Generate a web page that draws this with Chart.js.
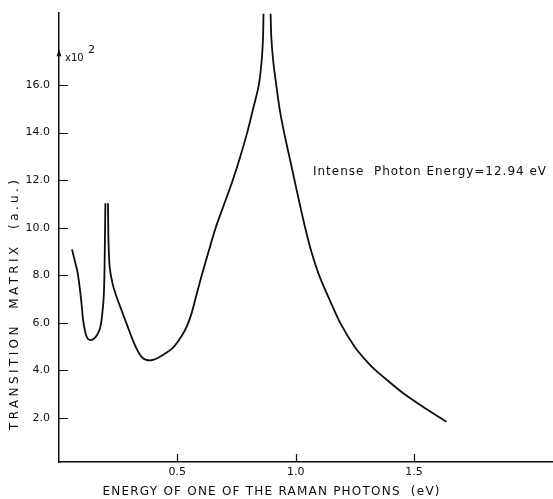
<!DOCTYPE html>
<html>
<head>
<meta charset="utf-8">
<script src="https://cdn.jsdelivr.net/npm/chart.js@4.4.1/dist/chart.umd.min.js"></script>
<style>
  html, body { margin: 0; padding: 0; background: #fff; }
  #wrap { width: 553px; height: 499px; position: relative; }
</style>
</head>
<body>
<div id="wrap"><canvas id="chart"></canvas></div>
<script>
// energy of one Raman photon (eV); a null in matrix marks a break where the curve diverges
const energy = [
    0.055, 0.066, 0.078, 0.087, 0.095, 0.101, 0.109, 0.118, 0.130, 0.144, 0.161, 0.175,
    0.183, 0.189, 0.192, 0.194, 0.196,
    0.199,
    0.207, 0.209, 0.214, 0.226, 0.243, 0.264, 0.285, 0.306, 0.327, 0.348, 0.369, 0.397,
    0.439, 0.482, 0.518, 0.540, 0.560, 0.580, 0.603, 0.632, 0.662, 0.698, 0.734, 0.766,
    0.795, 0.820, 0.844, 0.856, 0.862, 0.864,
    0.876,
    0.894, 0.897, 0.905, 0.918, 0.932, 0.951, 0.973, 0.995, 1.017, 1.040, 1.066, 1.099,
    1.142, 1.188, 1.249, 1.300, 1.338, 1.400, 1.460, 1.552, 1.637
];
// transition matrix (a.u., x10^2)
const matrix = [
    9.09, 8.64, 8.15, 7.52, 6.82, 6.19, 5.70, 5.39, 5.28, 5.31, 5.49, 5.84,
    6.40, 7.10, 8.08, 9.48, 11.03,
    null,
    11.03, 9.48, 8.36, 7.66, 7.10, 6.54, 5.98, 5.42, 4.93, 4.58, 4.44, 4.44,
    4.65, 4.96, 5.45, 5.85, 6.40, 7.15, 8.0, 9.0, 10.0, 11.0, 12.0, 13.0,
    14.0, 15.0, 16.0, 17.0, 18.0, 19.0,
    null,
    19.0, 18.0, 17.0, 16.0, 15.0, 14.0, 13.0, 12.0, 11.0, 10.0, 9.0, 8.0,
    7.0, 6.0, 5.0, 4.38, 4.0, 3.48, 3.0, 2.38, 1.84
];
const xTickValues = [0.5, 1.0, 1.5];
const yTickValues = [2, 4, 6, 8, 10, 12, 14, 16];

const xTitle = 'ENERGY OF ONE OF THE RAMAN PHOTONS  (eV)';
const yTitle = 'TRANSITION  MATRIX  (a.u.)';
const noteText = 'Intense  Photon Energy=12.94 eV';
const unitText = 'x10';
const unitPower = '2';

const INK = '#0d0d0d';
const FONT = '"DejaVu Sans", sans-serif';

function spacedText(ctx, text, x, y, width, align) {
    ctx.letterSpacing = '0px';
    const base = ctx.measureText(text).width;
    const gap = Math.max(0, (width - base) / (text.length - 1));
    ctx.letterSpacing = gap + 'px';
    ctx.textAlign = 'left';
    const start = align === 'center' ? x - width / 2 : x;
    ctx.fillText(text, start, y);
    ctx.letterSpacing = '0px';
}

const paperText = {
    id: 'paperText',
    afterDraw(chart) {
        const { ctx, chartArea, scales } = chart;
        const xs = scales.x;
        const ys = scales.y;
        ctx.save();

        // tick marks point into the plot, as on the printed figure
        ctx.strokeStyle = INK;
        ctx.lineWidth = 1.2;
        ctx.beginPath();
        xs.ticks.forEach((t) => {
            const px = Math.round(xs.getPixelForValue(t.value)) + 0.5;
            ctx.moveTo(px, chartArea.bottom);
            ctx.lineTo(px, chartArea.bottom - 8);
        });
        ys.ticks.forEach((t) => {
            const py = Math.round(ys.getPixelForValue(t.value)) + 0.5;
            ctx.moveTo(chartArea.left, py);
            ctx.lineTo(chartArea.left + 9, py);
        });
        ctx.stroke();

        ctx.fillStyle = INK;
        ctx.textBaseline = 'middle';

        // arrow head on the y axis
        const ax = chartArea.left;
        const ay = ys.getPixelForValue(17.3);
        ctx.beginPath();
        ctx.moveTo(ax, ay - 5);
        ctx.lineTo(ax - 2.5, ay + 2);
        ctx.lineTo(ax + 2.5, ay + 2);
        ctx.closePath();
        ctx.fill();

        // x10^2 unit
        ctx.font = '10px ' + FONT;
        ctx.textAlign = 'left';
        ctx.fillText(unitText, chartArea.left + 6, ys.getPixelForValue(17.13));
        ctx.font = '11px ' + FONT;
        ctx.fillText(unitPower, chartArea.left + 29, ys.getPixelForValue(17.45));

        // annotation
        ctx.font = '12px ' + FONT;
        spacedText(ctx, noteText, xs.getPixelForValue(1.073), ys.getPixelForValue(12.34), 233, 'left');

        // axis titles
        ctx.font = '12px ' + FONT;
        spacedText(ctx, xTitle, 271, 492, 337, 'center');
        ctx.translate(15, 305);
        ctx.rotate(-Math.PI / 2);
        spacedText(ctx, yTitle, 0, 0, 250, 'center');
        ctx.restore();
    }
};

new Chart(document.getElementById('chart'), {
    type: 'line',
    data: {
        datasets: [{
            data: energy.map((e, i) => ({ x: e, y: matrix[i] })),
            borderColor: INK,
            borderWidth: 1.8,
            pointRadius: 0,
            fill: false,
            spanGaps: false,
            tension: 0.3
        }]
    },
    options: {
        responsive: true,
        maintainAspectRatio: false,
        animation: false,
        layout: { padding: { top: 13, left: 0, right: 0, bottom: 0 } },
        plugins: {
            legend: { display: false },
            tooltip: { enabled: false }
        },
        scales: {
            x: {
                type: 'linear',
                min: 0,
                max: 2.087,
                afterBuildTicks: (scale) => { scale.ticks = xTickValues.map((v) => ({ value: v })); },
                afterFit: (scale) => {
                    scale.height = 37;
                    scale.paddingLeft = 0;
                    scale.paddingRight = 0;
                },
                ticks: {
                    callback: (v) => v.toFixed(1),
                    color: INK,
                    font: { family: FONT, size: 11 },
                    padding: 4,
                    maxRotation: 0,
                    minRotation: 0,
                    autoSkip: false
                },
                grid: { display: false, drawTicks: false },
                border: { display: true, color: INK, width: 1.5 }
            },
            y: {
                min: 0.15,
                max: 19.03,
                afterBuildTicks: (scale) => { scale.ticks = yTickValues.map((v) => ({ value: v })); },
                afterFit: (scale) => {
                    scale.width = 59;
                    scale.paddingTop = 0;
                    scale.paddingBottom = 0;
                },
                ticks: {
                    callback: (v) => v.toFixed(1),
                    color: INK,
                    font: { family: FONT, size: 11 },
                    padding: 9,
                    autoSkip: false
                },
                grid: { display: false, drawTicks: false },
                border: { display: true, color: INK, width: 1.5 }
            }
        }
    },
    plugins: [paperText]
});
</script>
</body>
</html>
